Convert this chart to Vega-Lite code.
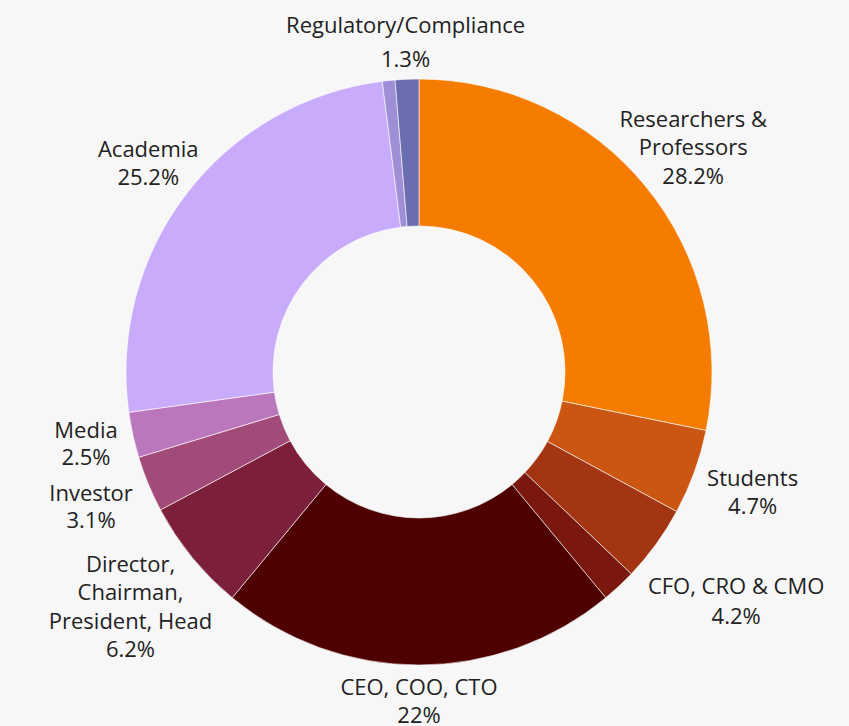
{
  "$schema": "https://vega.github.io/schema/vega-lite/v6.json",
  "width": 838,
  "height": 708,
  "autosize": {"type": "none"},
  "padding": {"left": 0, "top": 18, "right": 11, "bottom": 0},
  "background": "#f7f7f7",
  "config": {
    "view": {"stroke": null},
    "text": {"font": "Open Sans", "fontSize": 22, "lineBreak": "\n", "fill": "#222222", "align": "center", "baseline": "alphabetic"}
  },
  "data": {
    "values": [
      {"idx": 1, "key": "Researchers", "name": "Researchers &\nProfessors", "value": 28.2},
      {"idx": 2, "key": "Students", "name": "Students", "value": 4.7},
      {"idx": 3, "key": "CFO", "name": "CFO, CRO & CMO", "value": 4.2},
      {"idx": 4, "key": "Other1", "name": "", "value": 1.9},
      {"idx": 5, "key": "CEO", "name": "CEO, COO, CTO", "value": 22},
      {"idx": 6, "key": "Director", "name": "Director,\nChairman,\nPresident, Head", "value": 6.2},
      {"idx": 7, "key": "Investor", "name": "Investor", "value": 3.1},
      {"idx": 8, "key": "Media", "name": "Media", "value": 2.5},
      {"idx": 9, "key": "Academia", "name": "Academia", "value": 25.2},
      {"idx": 10, "key": "Other2", "name": "", "value": 0.7},
      {"idx": 11, "key": "Regulatory", "name": "Regulatory/Compliance", "value": 1.3}
    ]
  },
  "transform": [
    {"calculate": "datum.name ? datum.name + '\\n' + datum.value + '%' : ''", "as": "label"}
  ],
  "encoding": {
    "theta": {"field": "value", "type": "quantitative", "stack": true},
    "order": {"field": "idx", "type": "quantitative"}
  },
  "layer": [
    {
      "mark": {"type": "arc", "innerRadius": 146, "outerRadius": 293, "stroke": "#ffffff", "strokeWidth": 0.6},
      "encoding": {
        "color": {
          "field": "key",
          "type": "nominal",
          "scale": {
            "domain": ["Researchers", "Students", "CFO", "Other1", "CEO", "Director", "Investor", "Media", "Academia", "Other2", "Regulatory"],
            "range": ["#f57c00", "#cb5612", "#a33512", "#7a1810", "#4f0000", "#7b1f3a", "#a24a78", "#bb77bc", "#c9abfb", "#9e8fd6", "#6a6daf"]
          },
          "legend": null
        }
      }
    },
    {
      "mark": {"type": "text", "lineHeight": 27.5, "dy": -7},
      "encoding": {
        "text": {"condition": {"test": "datum.key === 'Investor' || datum.key === 'Students'", "field": "label", "type": "nominal"}, "value": ""},
        "radius": {"value": 355}
      }
    },
    {
      "mark": {"type": "text", "lineHeight": 27.5, "dy": -7.5},
      "encoding": {
        "text": {"condition": {"test": "datum.key === 'Media' || datum.key === 'Academia'", "field": "label", "type": "nominal"}, "value": ""},
        "radius": {"value": 341}
      }
    },
    {
      "mark": {"type": "text", "lineHeight": 28, "dy": -7},
      "encoding": {
        "text": {"condition": {"test": "datum.key === 'CEO'", "field": "label", "type": "nominal"}, "value": ""},
        "radius": {"value": 330}
      }
    },
    {
      "mark": {"type": "text", "lineHeight": 34, "dy": -10},
      "encoding": {
        "text": {"condition": {"test": "datum.key === 'Regulatory'", "field": "label", "type": "nominal"}, "value": ""},
        "radius": {"value": 329}
      }
    },
    {
      "mark": {"type": "text", "lineHeight": 30, "dy": -8},
      "encoding": {
        "text": {"condition": {"test": "datum.key === 'CFO'", "field": "label", "type": "nominal"}, "value": ""},
        "radius": {"value": 392}
      }
    },
    {
      "mark": {"type": "text", "lineHeight": 28.5, "dy": -21.5},
      "encoding": {
        "text": {"condition": {"test": "datum.key === 'Researchers'", "field": "label", "type": "nominal"}, "value": ""},
        "radius": {"value": 354}
      }
    },
    {
      "mark": {"type": "text", "lineHeight": 28.3, "dy": -35.5},
      "encoding": {
        "text": {"condition": {"test": "datum.key === 'Director'", "field": "label", "type": "nominal"}, "value": ""},
        "radius": {"value": 372.5}
      }
    }
  ]
}
